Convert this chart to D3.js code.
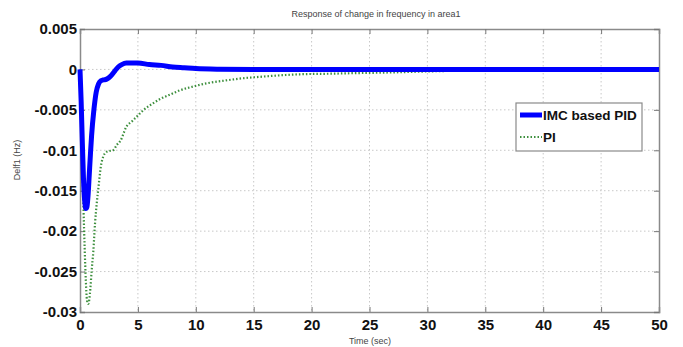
<!DOCTYPE html>
<html><head><meta charset="utf-8">
<script src="https://cdn.jsdelivr.net/npm/d3@7"></script>
<style>body{margin:0;background:#fff}svg{display:block}</style>
</head><body>
<svg id="c" width="683" height="347"></svg>
<script>
const xTicks = [0,5,10,15,20,25,30,35,40,45,50];
const yTicks = [0.005,0,-0.005,-0.01,-0.015,-0.02,-0.025,-0.03];
const yTickLabels = ["0.005","0","-0.005","-0.01","-0.015","-0.02","-0.025","-0.03"];
const seriesNames = ["IMC based PID","PI"];
const imcTime = [0,0.1,0.2,0.3,0.4,0.5,0.6,0.7,0.8,0.9,1.0,1.2,1.4,1.6,1.8,2.0,2.3,2.6,3.0,3.3,3.6,4.0,4.5,5,6,7,8,9,10,12,15,20,30,40,50];
const imcValues = [0,-0.004,-0.009,-0.0135,-0.0162,-0.0172,-0.0170,-0.0155,-0.013,-0.0105,-0.0082,-0.0050,-0.0028,-0.0018,-0.0014,-0.0013,-0.0012,-0.0009,-0.0002,0.0003,0.0006,0.0008,0.0008,0.0008,0.0006,0.0005,0.0003,0.0002,0.0001,0.00003,0,0,0,0,0];
const piTime = [0,0.1,0.2,0.3,0.4,0.5,0.6,0.7,0.8,0.9,1.0,1.15,1.3,1.45,1.6,1.8,2.0,2.2,2.5,2.85,3.2,3.5,4.0,4.5,5,5.5,6.3,7,7.8,8.6,9.8,11,12.6,14,15.5,17.2,19,21.6,24,26,28,30,33,36,40,45,50];
const piValues = [0,-0.005,-0.011,-0.017,-0.022,-0.026,-0.0285,-0.029,-0.0285,-0.027,-0.025,-0.0225,-0.019,-0.0165,-0.0145,-0.012,-0.0108,-0.0103,-0.0101,-0.0100,-0.0093,-0.0088,-0.0071,-0.0064,-0.0057,-0.0050,-0.0042,-0.0036,-0.0031,-0.0026,-0.0021,-0.0017,-0.00136,-0.0011,-0.00092,-0.00074,-0.0006,-0.00053,-0.00045,-0.0004,-0.00033,-0.00025,-0.00015,-0.0001,-0.00005,0,0];

const svg = d3.select("#c");
const m = {l:80, r:24, t:29, b:35};
const W = 683, H = 347;
const x = d3.scaleLinear().domain([0,50]).range([m.l, W-m.r]);
const y = d3.scaleLinear().domain([-0.03,0.005]).range([H-m.b, m.t]);
const tickFont = "'Liberation Sans','Arial',sans-serif";

// grid
const g = svg.append("g");
g.selectAll(".gx").data(xTicks.slice(1,-1)).enter().append("line")
  .attr("x1",d=>x(d)).attr("x2",d=>x(d)).attr("y1",y(0.005)).attr("y2",y(-0.03))
  .attr("stroke","#c8c8c8").attr("stroke-width",1).attr("stroke-dasharray","1.5,2.5");
g.selectAll(".gy").data(yTicks.slice(1,-1)).enter().append("line")
  .attr("y1",d=>y(d)).attr("y2",d=>y(d)).attr("x1",x(0)).attr("x2",x(50))
  .attr("stroke","#c8c8c8").attr("stroke-width",1).attr("stroke-dasharray","1.5,2.5");

// axes
const xa = svg.append("g").attr("transform",`translate(0,${y(-0.03)})`)
  .call(d3.axisBottom(x).tickValues(xTicks).tickSize(-5).tickPadding(7).tickFormat(d3.format("d")));
const xaTop = svg.append("g").attr("transform",`translate(0,${y(0.005)})`)
  .call(d3.axisTop(x).tickValues(xTicks).tickSize(-5).tickFormat(""));
const ya = svg.append("g").attr("transform",`translate(${x(0)},0)`)
  .call(d3.axisLeft(y).tickValues(yTicks).tickSize(-5).tickPadding(3).tickFormat((d,i)=>yTickLabels[i]));
const yaR = svg.append("g").attr("transform",`translate(${x(50)},0)`)
  .call(d3.axisRight(y).tickValues(yTicks).tickSize(-5).tickFormat(""));
[xa,xaTop,ya,yaR].forEach(a=>{
  a.select(".domain").attr("stroke","#8a8a8a").attr("stroke-width",1.5);
  a.selectAll(".tick line").attr("stroke","#777");
  a.selectAll("text").attr("font-family",tickFont).attr("font-weight","bold")
    .attr("font-size",15).attr("fill","#111");
});
xa.selectAll("text").attr("dy","0.7em");

// lines
const line = d3.line().curve(d3.curveMonotoneX);
const piPts = piTime.map((t,i)=>[x(t),y(piValues[i])]);
const imcPts = imcTime.map((t,i)=>[x(t),y(imcValues[i])]);
svg.append("path").attr("d",line(piPts)).attr("fill","none")
  .attr("stroke","#3d8f3d").attr("stroke-width",2.2).attr("stroke-dasharray","1.5,2");
svg.append("path").attr("d",line(imcPts)).attr("fill","none")
  .attr("stroke","#0000ff").attr("stroke-width",5).attr("stroke-linejoin","round");

// title & labels
svg.append("text").attr("x",376).attr("y",17).attr("text-anchor","middle")
  .attr("font-family",tickFont).attr("font-size",9).attr("fill","#444")
  .text("Response of  change in frequency in area1");
svg.append("text").attr("x",370).attr("y",344).attr("text-anchor","middle")
  .attr("font-family",tickFont).attr("font-size",9).attr("fill","#444")
  .text("Time (sec)");
svg.append("text").attr("transform","translate(20,160) rotate(-90)").attr("text-anchor","middle")
  .attr("font-family",tickFont).attr("font-size",9).attr("fill","#444")
  .text("Delf1 (Hz)");

// legend
const lg = svg.append("g").attr("transform","translate(516,103)");
lg.append("rect").attr("width",126).attr("height",48).attr("fill","#fff")
  .attr("stroke","#8a8a8a").attr("stroke-width",1.2);
lg.append("line").attr("x1",4).attr("x2",26).attr("y1",12).attr("y2",12)
  .attr("stroke","#0000ff").attr("stroke-width",5);
lg.append("line").attr("x1",4).attr("x2",26).attr("y1",34).attr("y2",34)
  .attr("stroke","#3d8f3d").attr("stroke-width",2.2).attr("stroke-dasharray","1.5,2");
lg.selectAll(".lt").data(seriesNames).enter().append("text")
  .attr("x",27).attr("y",(d,i)=>17+i*22)
  .attr("font-family",tickFont).attr("font-weight","bold").attr("font-size",13.5).attr("fill","#111")
  .text(d=>d);
</script>
</body></html>
